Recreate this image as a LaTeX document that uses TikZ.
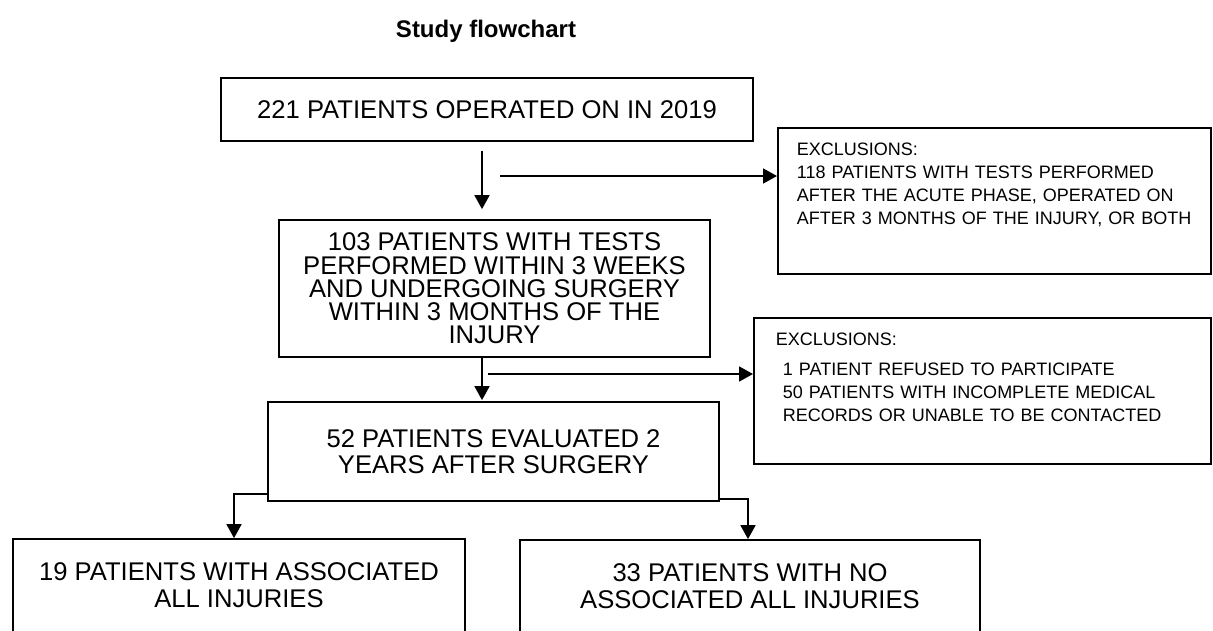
\documentclass[tikz,border=0pt]{standalone}
\usepackage{fontspec}
\setmainfont{Liberation Sans}
\usepackage{tikz}
\usetikzlibrary{
	positioning,
	arrows.meta
}
\tikzset{
	x=1pt,
	y=-1pt,
	box/.style={
		draw,
		line width=1.8pt,
		align=center,
		inner sep=0pt
	},
	exclbox/.style={
		draw,
		line width=1.8pt,
		align=left,
		anchor=north west,
		inner ysep=15pt,
		text height=13pt,
		text depth=103pt,
		font=\fontsize{18}{23}\selectfont
	},
	flow/.style={
		line width=1.8pt,
		-{Triangle[length=14pt,width=15pt]}
	}
}

\begin{document}
\begin{tikzpicture}
	\useasboundingbox (0,0) rectangle (1213,630);
	\clip (0,0) rectangle (1213,630);
	\fill[white] (0,0) rectangle (1213,630);

	\node[anchor=base,font=\fontsize{24}{28}\selectfont\bfseries] (title) at (486,37) {Study flowchart};

	\node[box,minimum width=532pt,minimum height=63pt,font=\fontsize{25.6}{27}\selectfont]
		(operated) at (487,109.5) {221 PATIENTS OPERATED ON IN 2019};
	\node[exclbox,text width=395pt,inner xsep=19pt] (excl1) at (777,127)
		{EXCLUSIONS:\\
		118 PATIENTS WITH TESTS PERFORMED\\
		AFTER THE ACUTE PHASE, OPERATED ON\\
		AFTER 3 MONTHS OF THE INJURY, OR BOTH};
	\node[box,minimum width=431pt,minimum height=137pt,font=\fontsize{25.6}{23.3}\selectfont]
		(tested) at (494.5,288.5) {103 PATIENTS WITH TESTS\\ PERFORMED WITHIN 3 WEEKS\\ AND UNDERGOING SURGERY\\ WITHIN 3 MONTHS OF THE\\ INJURY};
	\node[exclbox,text width=413pt,inner xsep=22pt] (excl2) at (753,317)
		{EXCLUSIONS:\\[7pt]
		\hspace*{7pt}1 PATIENT REFUSED TO PARTICIPATE\\
		\hspace*{7pt}50 PATIENTS WITH INCOMPLETE MEDICAL\\
		\hspace*{7pt}RECORDS OR UNABLE TO BE CONTACTED};
	\node[box,minimum width=451pt,minimum height=99pt,font=\fontsize{25.6}{26}\selectfont]
		(evaluated) at (493.5,451.5) {52 PATIENTS EVALUATED 2\\ YEARS AFTER SURGERY};
	\node[box,minimum width=452pt,minimum height=93pt,font=\fontsize{25.6}{27}\selectfont]
		(with) at (239,585.5) {19 PATIENTS WITH ASSOCIATED\\ ALL INJURIES};
	\node[box,minimum width=460pt,minimum height=92pt,font=\fontsize{25.6}{27}\selectfont]
		(without) at (750,586) {33 PATIENTS WITH NO\\ ASSOCIATED ALL INJURIES};

	\coordinate (split1) at (500,176);
	\coordinate (split2) at (488,374);

	\draw[flow,shorten <=9pt,shorten >=10pt] ([xshift=-5pt]operated.south) -- ([xshift=-12.5pt]tested.north);
	\draw[flow] (split1) -- (split1 -| excl1.west);
	\draw[flow,shorten >=1pt] ([xshift=-12.5pt]tested.south) -- ([xshift=-11.5pt]evaluated.north);
	\draw[flow] (split2) -- (split2 -| excl2.west);
	\draw[flow] ([yshift=8pt]evaluated.south west) -| ([xshift=-5pt]with.north);
	\draw[flow] ([yshift=3pt]evaluated.south east) -| ([xshift=-2pt]without.north);
\end{tikzpicture}
\end{document}
